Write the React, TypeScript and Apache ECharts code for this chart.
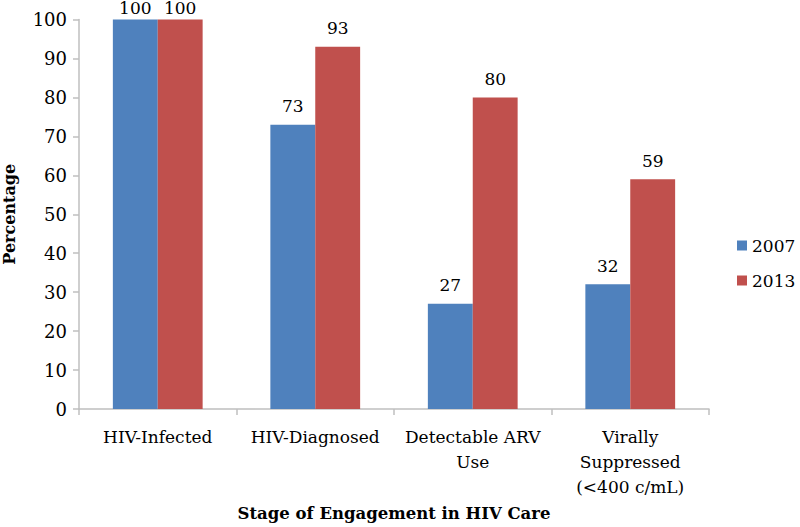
import React, { useEffect, useRef } from "react";
import * as echarts from "echarts";

const categories = ["HIV-Infected", "HIV-Diagnosed", "Detectable ARV\nUse", "Virally\nSuppressed\n(<400 c/mL)"];
const values2007 = [100, 73, 27, 32];
const values2013 = [100, 93, 80, 59];
const seriesNames = ["2007", "2013"];

const FONT = "DejaVu Serif";

export default function App() {
  const ref = useRef<HTMLDivElement>(null);
  useEffect(() => {
    if (!ref.current) return;
    const chart = echarts.init(ref.current, null, { renderer: "svg" });
    const label = {
      show: true,
      position: "top" as const,
      distance: 10,
      color: "#000",
      fontFamily: FONT,
      fontSize: 17,
    };
    // labels of full-height bars sit closer to the bar (squeezed at the chart's top edge)
    const withLabels = (vals: number[]) =>
      vals.map((v) => (v >= 100 ? { value: v, label: { distance: 3 } } : v));
    chart.setOption({
      animation: false,
      backgroundColor: "#fff",
      grid: { left: 79, right: 91, top: 19.5, bottom: 118, containLabel: false, outerBoundsMode: "none" },
      legend: {
        orient: "vertical",
        left: 732,
        top: 232,
        itemWidth: 10,
        itemHeight: 10,
        itemGap: 18,
        icon: "rect",
        textStyle: { fontFamily: FONT, fontSize: 17, color: "#000" },
        data: seriesNames,
      },
      xAxis: {
        type: "category",
        data: categories,
        name: "Stage of Engagement in HIV Care",
        nameLocation: "middle",
        nameGap: 96,
        nameTextStyle: { fontFamily: FONT, fontSize: 16.5, fontWeight: "bold", color: "#000" },
        axisLine: { lineStyle: { color: "#bfbfbf", width: 1.5 } },
        axisTick: { show: true, length: 6, lineStyle: { color: "#bfbfbf", width: 1.5 } },
        axisLabel: {
          fontFamily: FONT,
          fontSize: 17,
          color: "#000",
          margin: 15,
          lineHeight: 25,
          interval: 0,
          verticalAlign: "top",
        },
      },
      yAxis: {
        type: "value",
        min: 0,
        max: 100,
        interval: 10,
        name: "Percentage",
        nameLocation: "middle",
        nameGap: 62,
        nameTextStyle: { fontFamily: FONT, fontSize: 16, fontWeight: "bold", color: "#000" },
        axisLine: { show: true, lineStyle: { color: "#bfbfbf", width: 1.5 } },
        axisTick: { show: true, length: 6, lineStyle: { color: "#bfbfbf", width: 1.5 } },
        splitLine: { show: false },
        axisLabel: { fontFamily: FONT, fontSize: 18, color: "#000", margin: 12 },
      },
      series: [
        {
          name: seriesNames[0],
          type: "bar",
          data: withLabels(values2007),
          barGap: "0%",
          barCategoryGap: "43%",
          itemStyle: { color: "#4f81bd" },
          label,
        },
        {
          name: seriesNames[1],
          type: "bar",
          data: withLabels(values2013),
          barGap: "0%",
          barCategoryGap: "43%",
          itemStyle: { color: "#c0504d" },
          label,
        },
      ],
    });
    return () => chart.dispose();
  }, []);
  return <div ref={ref} style={{ width: 800, height: 527, position: "fixed", left: 0, top: 0 }} />;
}
